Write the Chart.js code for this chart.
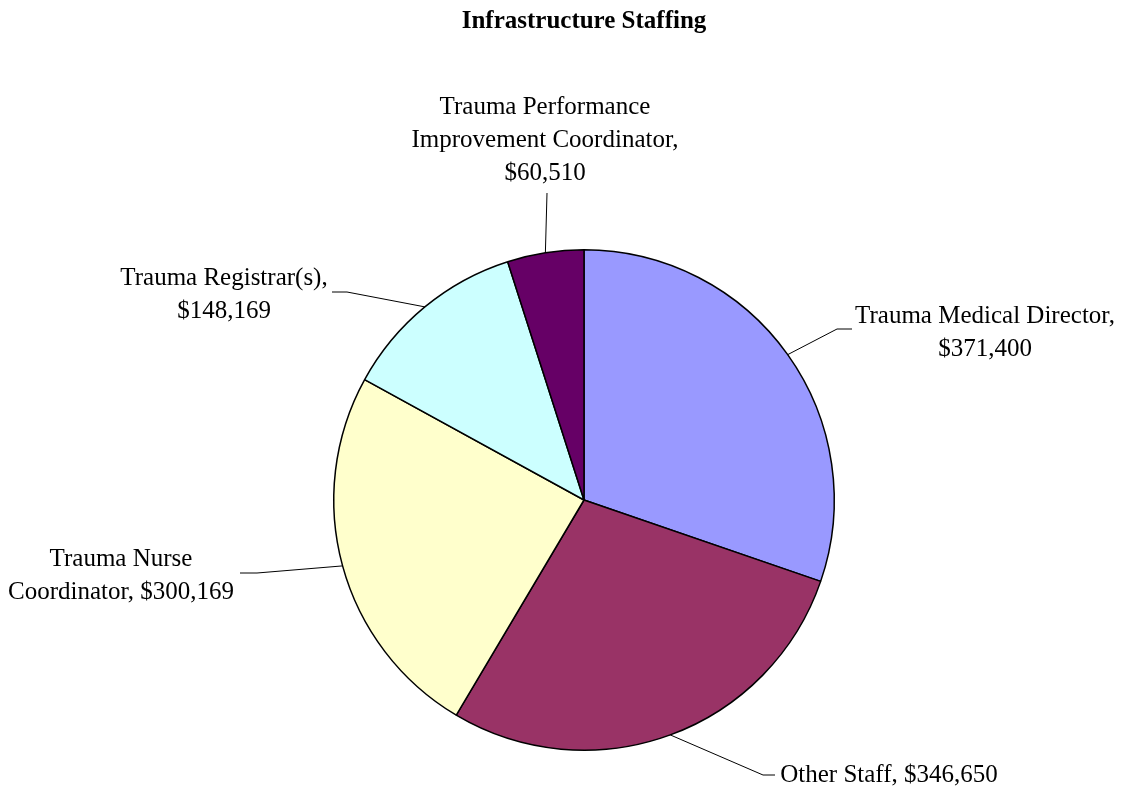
<!DOCTYPE html>
<html>
<head>
<meta charset="utf-8">
<script src="https://cdn.jsdelivr.net/npm/chart.js@4"></script>
<style>
  html, body { margin: 0; padding: 0; background: #ffffff; }
  #wrap { width: 1125px; height: 795px; }
</style>
</head>
<body>
<div id="wrap"><canvas id="c" width="1125" height="795"></canvas></div>
<script>
// ---- data ----
const chartTitle = "Infrastructure Staffing";
const categories = [
  "Trauma Medical Director",
  "Other Staff",
  "Trauma Nurse Coordinator",
  "Trauma Registrar(s)",
  "Trauma Performance Improvement Coordinator"
];
const values = [371400, 346650, 300169, 148169, 60510];
const sliceColors = ["#9999FF", "#993366", "#FFFFCC", "#CCFFFF", "#660066"];

// ---- label layout (positions/styling only) ----
const FONT = "'Liberation Serif', 'Times New Roman', serif";
const LABEL_SIZE = 25;
const LINE_H = 33;
const TEXT_DY = 2;
// text lines, text centre x, first line centre y, leader path (start, elbow) – end computed from slice
const labelLayout = [
  { lines: ["Trauma Medical Director,", "$371,400"], cx: 985, cy: 314, path: [[852, 329], [837, 329]] },
  { lines: ["Other Staff, $346,650"], cx: 889, cy: 773, path: [[775, 775], [763, 775]] },
  { lines: ["Trauma Nurse", "Coordinator, $300,169"], cx: 121, cy: 557, path: [[240, 573], [257, 573]] },
  { lines: ["Trauma Registrar(s),", "$148,169"], cx: 224, cy: 276, path: [[332, 292], [347, 292]] },
  { lines: ["Trauma Performance", "Improvement Coordinator,", "$60,510"], cx: 545, cy: 105, path: [[547, 193], [547, 193]] }
];

const labelPlugin = {
  id: "pieLabels",
  afterDraw(chart) {
    const ctx = chart.ctx;
    ctx.save();
    // title
    ctx.fillStyle = "#000";
    ctx.font = "bold " + LABEL_SIZE + "px " + FONT;
    ctx.textAlign = "center";
    ctx.textBaseline = "middle";
    ctx.fillText(chartTitle, 584, 22);

    const meta = chart.getDatasetMeta(0);
    ctx.font = LABEL_SIZE + "px " + FONT;
    meta.data.forEach((arc, i) => {
      const lay = labelLayout[i];
      const p = arc.getProps(["x", "y", "startAngle", "endAngle", "outerRadius"], true);
      const mid = (p.startAngle + p.endAngle) / 2;
      const ex = p.x + Math.cos(mid) * p.outerRadius;
      const ey = p.y + Math.sin(mid) * p.outerRadius;
      ctx.strokeStyle = "#000";
      ctx.lineWidth = 1;
      ctx.beginPath();
      ctx.moveTo(lay.path[0][0], lay.path[0][1]);
      ctx.lineTo(lay.path[1][0], lay.path[1][1]);
      ctx.lineTo(ex, ey);
      ctx.stroke();
      ctx.fillStyle = "#000";
      lay.lines.forEach((t, k) => {
        ctx.fillText(t, lay.cx, lay.cy + TEXT_DY + k * LINE_H);
      });
    });
    ctx.restore();
  }
};

new Chart(document.getElementById("c"), {
  type: "pie",
  data: {
    labels: categories,
    datasets: [{
      data: values,
      backgroundColor: sliceColors,
      borderColor: "#000000",
      borderWidth: 1.5
    }]
  },
  options: {
    responsive: false,
    animation: false,
    layout: { padding: { top: 249, bottom: 44, left: 333, right: 290 } },
    plugins: {
      legend: { display: false },
      title: { display: false },
      tooltip: { enabled: false }
    }
  },
  plugins: [labelPlugin]
});
</script>
</body>
</html>
